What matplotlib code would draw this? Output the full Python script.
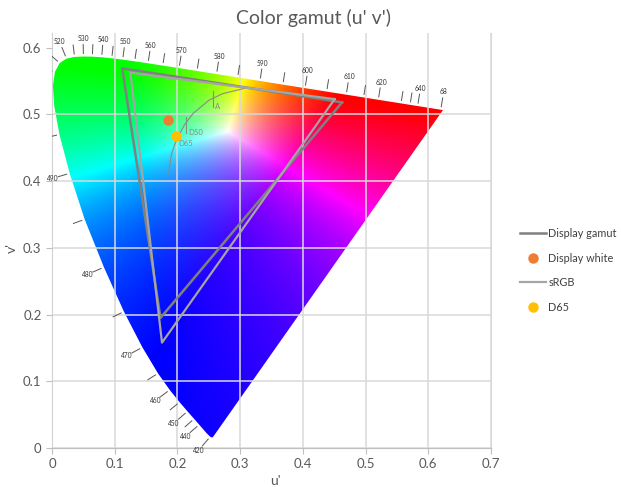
import numpy as np
import matplotlib.pyplot as plt
from matplotlib.patches import Polygon
from matplotlib.lines import Line2D

plt.rcParams["font.family"] = ["Lato", "DejaVu Sans"]

# CIE 1931 spectral locus (x, y) by wavelength
wl = [380, 390, 400, 410, 420, 430, 440, 445, 450, 455, 460, 465, 470, 475,
      480, 485, 490, 495, 500, 505, 510, 515, 520, 525, 530, 535, 540, 545,
      550, 555, 560, 565, 570, 575, 580, 585, 590, 595, 600, 605, 610, 615,
      620, 625, 630, 635, 640, 645, 650, 660, 670, 680, 690, 700]
cie_x = [0.1741, 0.1738, 0.1733, 0.1726, 0.1714, 0.1689, 0.1644, 0.1611,
         0.1566, 0.1510, 0.1440, 0.1355, 0.1241, 0.1096, 0.0913, 0.0687,
         0.0454, 0.0235, 0.0082, 0.0039, 0.0139, 0.0389, 0.0743, 0.1142,
         0.1547, 0.1929, 0.2296, 0.2658, 0.3016, 0.3373, 0.3731, 0.4087,
         0.4441, 0.4788, 0.5125, 0.5448, 0.5752, 0.6029, 0.6270, 0.6482,
         0.6658, 0.6801, 0.6915, 0.7006, 0.7079, 0.7140, 0.7190, 0.7230,
         0.7260, 0.7300, 0.7320, 0.7334, 0.7344, 0.7347]
cie_y = [0.0050, 0.0049, 0.0048, 0.0048, 0.0051, 0.0069, 0.0109, 0.0138,
         0.0177, 0.0227, 0.0297, 0.0399, 0.0578, 0.0868, 0.1327, 0.2007,
         0.2950, 0.4127, 0.5384, 0.6548, 0.7502, 0.8120, 0.8338, 0.8262,
         0.8059, 0.7816, 0.7543, 0.7243, 0.6923, 0.6589, 0.6245, 0.5896,
         0.5547, 0.5202, 0.4866, 0.4544, 0.4242, 0.3965, 0.3725, 0.3514,
         0.3340, 0.3197, 0.3083, 0.2993, 0.2920, 0.2859, 0.2809, 0.2770,
         0.2740, 0.2700, 0.2680, 0.2666, 0.2656, 0.2653]

tick_wl = [420, 440, 445, 450, 455, 460, 465, 470, 475, 480, 485, 490, 495,
           500, 505, 510, 515, 520, 525, 530, 535, 540, 545, 550, 555, 560,
           565, 570, 575, 580, 585, 590, 595, 600, 605, 610, 615, 620, 630,
           635, 640, 680]
label_wl = [420, 440, 450, 460, 470, 480, 490, 520, 530, 540, 550, 560, 570,
            580, 590, 600, 610, 620, 640, 680]
label_txt = ["420", "440", "450", "460", "470", "480", "490", "520", "530",
             "540", "550", "560", "570", "580", "590", "600", "610", "620",
             "640", "68"]

# Planckian locus (u', v')
planck_u = [0.1859, 0.1904, 0.1946, 0.2004, 0.2114, 0.2251, 0.2505, 0.2722, 0.3051]
planck_v = [0.4120, 0.4399, 0.4521, 0.4656, 0.4847, 0.5016, 0.5214, 0.5311, 0.5386]

# illuminant marks on the Planckian curve
illum_names = ["A", "D50"]
illum_u = [0.257, 0.214]
illum_v = [0.5235, 0.4835]

# gamuts (R, G, B) in u'v'
display_u = [0.4625, 0.112, 0.173]
display_v = [0.518, 0.569, 0.195]
srgb_u = [0.4507, 0.1250, 0.1754]
srgb_v = [0.5229, 0.5625, 0.1579]

display_white = (0.185, 0.491)
d65 = (0.1978, 0.4683)


def xy_to_uv(x, y):
    x = np.asarray(x)
    y = np.asarray(y)
    d = -2 * x + 12 * y + 3
    return 4 * x / d, 9 * y / d


loc_u, loc_v = xy_to_uv(cie_x, cie_y)

# background colours
uu, vv = np.meshgrid(np.linspace(0, 0.7, 560), np.linspace(0.0005, 0.622, 500))


def uv_rgb(u, v):
    d = 6 * u - 16 * v + 12
    x = 9 * u / d
    y = 4 * v / d
    X = x / y
    Z = (1 - x - y) / y
    r = 3.2406 * X - 1.5372 - 0.4986 * Z
    g = -0.9689 * X + 1.8758 + 0.0415 * Z
    b = 0.0557 * X - 0.2040 + 1.0570 * Z
    return np.stack([r, g, b], axis=-1)


with np.errstate(all="ignore"):
    rgb = uv_rgb(uu, vv)
    w = uv_rgb(np.array(0.28), np.array(0.475))
    rgb = rgb / w
    rgb = np.clip(rgb, 0, None)
    rgb = rgb / rgb.max(axis=-1, keepdims=True)
    rgb = np.nan_to_num(rgb)

fig = plt.figure(figsize=(6.21, 4.87), dpi=100)
ax = fig.add_axes([52 / 621, 1 - 448 / 487, 439 / 621, 415 / 487])

im = ax.imshow(rgb, extent=[0, 0.7, 0.0005, 0.622], origin="lower",
               aspect="auto", interpolation="bilinear", zorder=0)
poly = Polygon(np.column_stack([loc_u, loc_v]), closed=True,
               transform=ax.transData, facecolor="none", edgecolor="none")
ax.add_patch(poly)
im.set_clip_path(poly)

ax.set_xlim(0, 0.7)
ax.set_ylim(0, 0.622)
ax.set_xticks(np.arange(0, 0.71, 0.1))
ax.set_yticks(np.arange(0, 0.61, 0.1))
ax.set_xticklabels(["0", "0.1", "0.2", "0.3", "0.4", "0.5", "0.6", "0.7"])
ax.set_yticklabels(["0", "0.1", "0.2", "0.3", "0.4", "0.5", "0.6"])
ax.grid(True, color="#d9d9d9", lw=1.1, zorder=1)
ax.set_axisbelow(False)
ax.yaxis.get_gridlines()[-1].set_visible(False)
ax.tick_params(colors="#bfbfbf", labelcolor="#595959", labelsize=9.5,
               length=4, width=0.8)
ax.spines["top"].set_visible(False)
ax.spines["right"].set_color("#d9d9d9")
ax.spines["left"].set_color("#bfbfbf")
ax.spines["bottom"].set_color("#bfbfbf")

# wavelength ticks on the locus (normals in pixel scale)
sx, sy = 627.0, 668.0
pu, pv = loc_u * sx, loc_v * sy
tu, tv = np.gradient(pu), np.gradient(pv)
nrm = np.hypot(tu, tv)
nu, nv = -tv / nrm, tu / nrm
for w_ in tick_wl:
    i = wl.index(w_)
    ax.plot([loc_u[i] + nu[i] * 3 / sx, loc_u[i] + nu[i] * 12 / sx],
            [loc_v[i] + nv[i] * 3 / sy, loc_v[i] + nv[i] * 12 / sy],
            color="#555555", lw=0.7, zorder=3)
for w_, t in zip(label_wl, label_txt):
    i = wl.index(w_)
    ax.text(loc_u[i] + nu[i] * 18 / sx, loc_v[i] + nv[i] * 18 / sy, t,
            fontsize=4.8, color="#333333", ha="center", va="center", zorder=3)

# Planckian locus and illuminants
ax.plot(planck_u, planck_v, color="#8a8a8a", lw=0.8, zorder=3)
for n, u, v in zip(illum_names, illum_u, illum_v):
    ax.plot([u, u], [v - 0.012, v + 0.012], color="#8a8a8a", lw=0.8, zorder=3)
    ax.text(u + 0.003, v - 0.011, n, fontsize=5.5, color="#8a8a8a",
            ha="left", va="center", zorder=3)
ax.text(d65[0] + 0.003, d65[1] - 0.012, "D65", fontsize=5.5, color="#8a8a8a",
        ha="left", va="center", zorder=3)

ax.plot(display_u + display_u[:1], display_v + display_v[:1],
        color="#808080", lw=1.8, zorder=4)
ax.plot(srgb_u + srgb_u[:1], srgb_v + srgb_v[:1],
        color="#a5a5a5", lw=1.6, zorder=4)
ax.plot(*display_white, "o", color="#ed7d31", ms=6.5, zorder=5)
ax.plot(*d65, "o", color="#ffc000", ms=6.5, zorder=5)

fig.text(313 / 621, 1 - 18 / 487, "Color gamut (u' v')", fontsize=14,
         color="#595959", ha="center", va="center")
fig.text(275 / 621, 1 - 481 / 487, "u'", fontsize=10, color="#595959",
         ha="center", va="center")
fig.text(12 / 621, 1 - 248 / 487, "v'", fontsize=10, color="#595959",
         ha="center", va="center", rotation=90)

handles = [
    Line2D([], [], color="#808080", lw=1.8),
    Line2D([], [], color="#ed7d31", marker="o", ls="", ms=6.5),
    Line2D([], [], color="#a5a5a5", lw=1.6),
    Line2D([], [], color="#ffc000", marker="o", ls="", ms=6.5),
]
fig.legend(handles, ["Display gamut", "Display white", "sRGB", "D65"],
           loc="center left", bbox_to_anchor=(520 / 621, 1 - 270.5 / 487),
           frameon=False, fontsize=7.8, labelcolor="#404040", handlelength=2.4,
           handletextpad=0.2, labelspacing=1.25, borderpad=0, borderaxespad=0)

fig.savefig("out.png", dpi=100)
